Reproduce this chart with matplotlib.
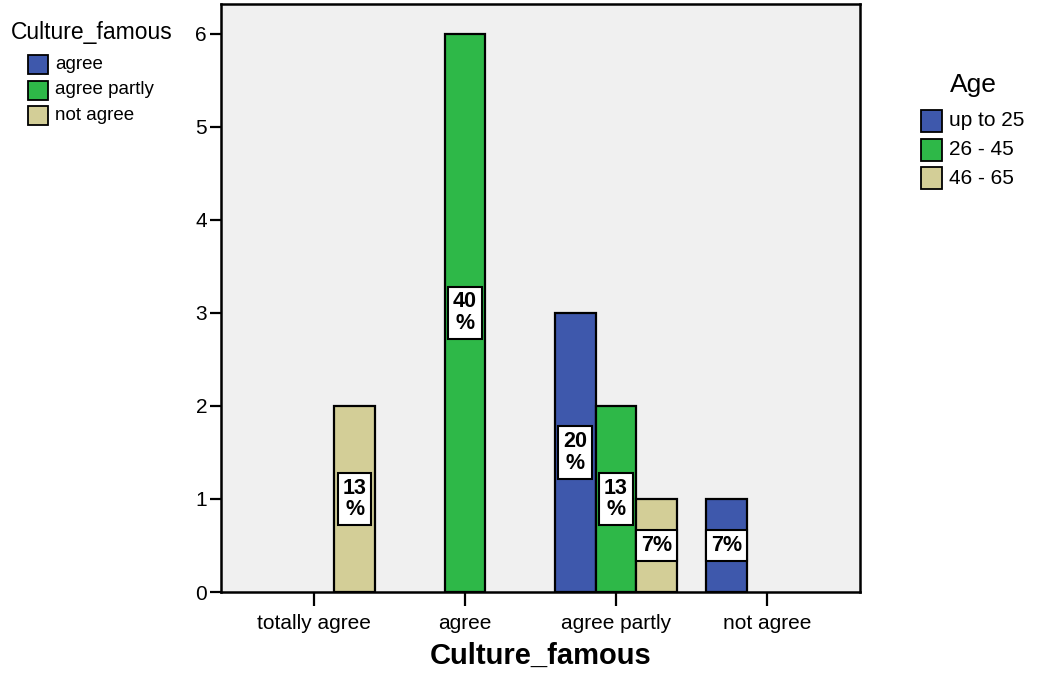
import matplotlib
matplotlib.use("Agg")
import matplotlib.pyplot as plt
from matplotlib.patches import Rectangle
import numpy as np

plt.rcParams['font.family'] = ['Liberation Sans', 'DejaVu Sans']

categories = ["totally agree", "agree", "agree partly", "not agree"]
age_groups = ["up to 25", "26 - 45", "46 - 65"]
counts_up_to_25 = [0, 0, 3, 1]
counts_26_45 = [0, 6, 2, 0]
counts_46_65 = [2, 0, 1, 0]
side_legend_labels = ["agree", "agree partly", "not agree"]

colors = ["#3e58ac", "#2eb848", "#d3ce97"]
series = [counts_up_to_25, counts_26_45, counts_46_65]
total = sum(sum(s) for s in series)

fig = plt.figure(figsize=(10.51, 6.76), dpi=100)
ax = fig.add_axes([221 / 1051, 84 / 676, 639 / 1051, 588 / 676])
ax.set_facecolor("#f0f0f0")

x = np.arange(len(categories))
width = 0.27
offsets = [-width, 0.0, width]

for vals, col, off in zip(series, colors, offsets):
    for xi, v in zip(x, vals):
        if v <= 0:
            continue
        ax.bar(xi + off, v, width=width, color=col, edgecolor="black",
               linewidth=1.6, zorder=2)
        pct = round(100 * v / total)
        label = f"{pct}%" if len(str(pct)) == 1 else f"{pct}\n%"
        ax.text(xi + off, v / 2, label, ha="center", va="center",
                fontsize=15.5, fontweight="bold", linespacing=1.05, zorder=3,
                bbox=dict(boxstyle="square,pad=0.22", facecolor="white",
                          edgecolor="black", linewidth=1.5))

ax.set_xlim(-0.616, 3.616)
ax.set_ylim(0, 6.32)
ax.set_xticks(x)
ax.set_xticklabels(categories, fontsize=15)
ax.set_yticks(range(0, 7))
ax.tick_params(axis="y", labelsize=15, length=8, width=1.6, direction="out", pad=2)
ax.tick_params(axis="x", length=10, width=1.6, direction="out", pad=6)
for sp in ax.spines.values():
    sp.set_linewidth(1.8)
ax.set_xlabel("Culture_famous", fontsize=21, fontweight="bold", labelpad=6)

W, H = 1051, 676

def fig_legend(title, labels, title_xy, title_size, box_x, box_y0, box_w, box_h,
               step, text_size, title_ha):
    fig.text(title_xy[0] / W, 1 - title_xy[1] / H, title, fontsize=title_size,
             ha=title_ha, va="center")
    for i, (lab, col) in enumerate(zip(labels, colors)):
        y0 = box_y0 + i * step
        fig.patches.append(Rectangle((box_x / W, 1 - (y0 + box_h) / H),
                                     box_w / W, box_h / H, facecolor=col,
                                     edgecolor="black", linewidth=1.3,
                                     transform=fig.transFigure, figure=fig))
        fig.text((box_x + box_w + 7) / W, 1 - (y0 + box_h / 2) / H, lab,
                 fontsize=text_size, ha="left", va="center")

fig_legend("Culture_famous", side_legend_labels, (11, 32), 16.5,
           28, 55, 20, 19, 25.5, 13.5, "left")
fig_legend("Age", age_groups, (973, 85), 19,
           921, 110, 21, 22, 28.5, 15, "center")

fig.savefig("out.png", dpi=100)
